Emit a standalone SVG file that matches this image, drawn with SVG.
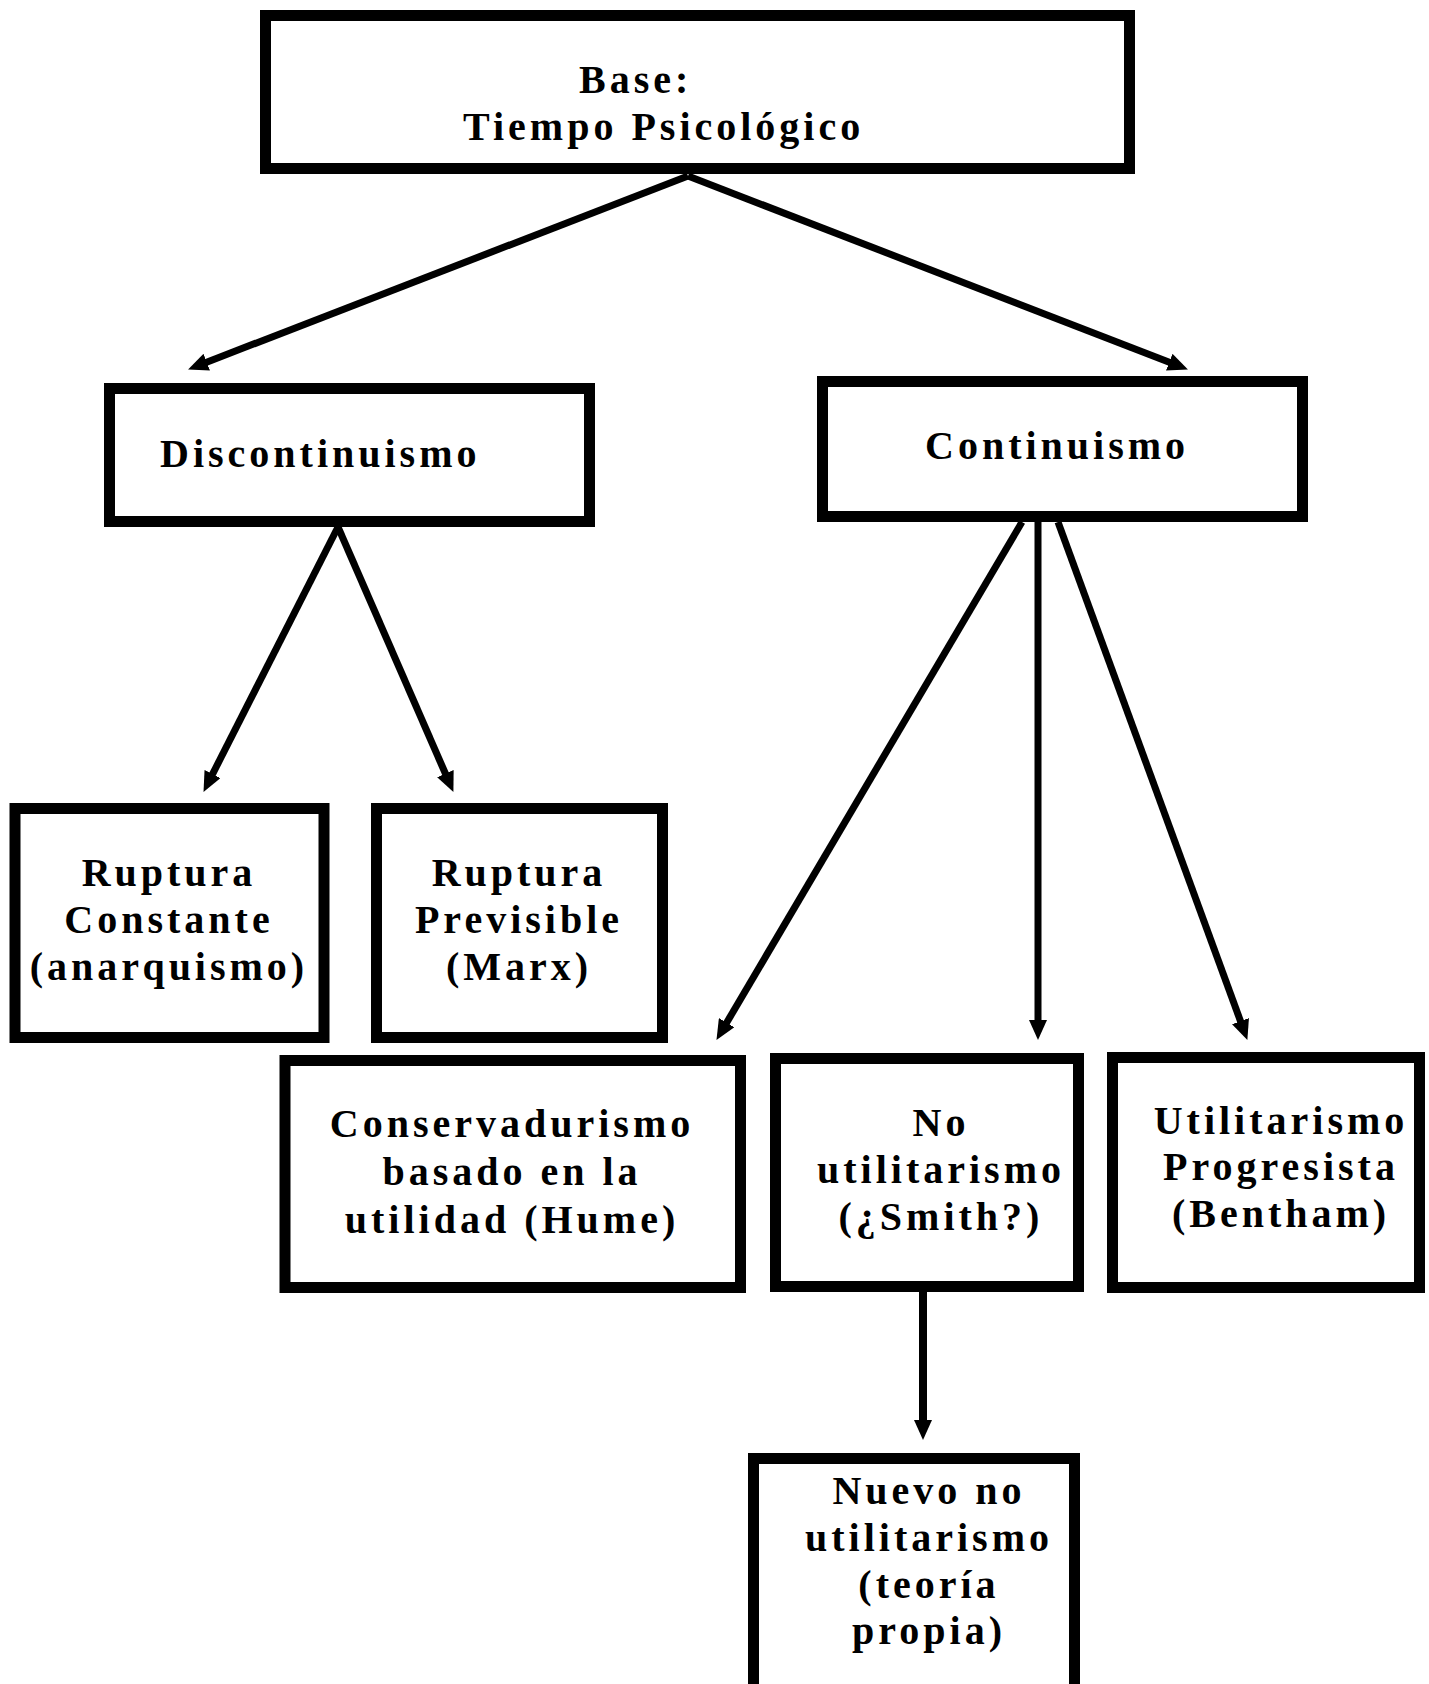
<svg xmlns="http://www.w3.org/2000/svg" width="1429" height="1684" viewBox="0 0 1429 1684">
<style>
.box{fill:#fff;stroke:#000;stroke-width:11}
.t{font-family:"Liberation Serif","Times New Roman",serif;font-weight:bold;font-size:40px;letter-spacing:4px;fill:#000}
.m{text-anchor:middle}
.c{stroke:#000;stroke-width:7;fill:none}
</style>
<defs>
<marker id="ah" markerUnits="userSpaceOnUse" markerWidth="20" markerHeight="18" refX="7" refY="9" orient="auto" viewBox="0 0 20 18">
<path d="M0,0 L20,9 L0,18 z" fill="#000"/>
</marker>
</defs>
<rect width="1429" height="1684" fill="#fff"/>
<g id="connectors">
<line class="c" x1="688" y1="176" x2="200.2" y2="364.7" marker-end="url(#ah)"/>
<line class="c" x1="688" y1="176" x2="1175.8" y2="364.7" marker-end="url(#ah)"/>
<line class="c" x1="338" y1="527" x2="209.4" y2="780.3" marker-end="url(#ah)"/>
<line class="c" x1="338" y1="527" x2="448.2" y2="780" marker-end="url(#ah)"/>
<line class="c" x1="1022" y1="522" x2="723.1" y2="1028.7" marker-end="url(#ah)"/>
<line class="c" x1="1038" y1="522" x2="1038" y2="1027" marker-end="url(#ah)"/>
<line class="c" x1="1058" y1="522" x2="1242.9" y2="1027.7" marker-end="url(#ah)"/>
<line class="c" x1="923" y1="1292" x2="923" y2="1427" marker-end="url(#ah)" style="stroke-width:8"/>
</g>
<g id="base">
<rect class="box" x="265.5" y="15.5" width="864" height="153"/>
<text class="t" x="579" y="93">Base:</text>
<text class="t" x="463" y="140">Tiempo Psicológico</text>
</g>
<g id="discontinuismo">
<rect class="box" x="109.5" y="388.5" width="480" height="133"/>
<text class="t" x="160" y="467">Discontinuismo</text>
</g>
<g id="continuismo">
<rect class="box" x="822.5" y="381.5" width="480" height="135"/>
<text class="t" x="925" y="459">Continuismo</text>
</g>
<g id="ruptura-constante">
<rect class="box" x="15" y="808.5" width="309" height="229"/>
<text class="t m" x="169" y="886">Ruptura</text>
<text class="t m" x="169" y="933">Constante</text>
<text class="t m" x="169" y="980">(anarquismo)</text>
</g>
<g id="ruptura-previsible">
<rect class="box" x="376.5" y="808.5" width="286" height="229"/>
<text class="t m" x="519" y="886">Ruptura</text>
<text class="t m" x="519" y="933">Previsible</text>
<text class="t m" x="519" y="980">(Marx)</text>
</g>
<g id="conservadurismo">
<rect class="box" x="285" y="1060.5" width="455.5" height="227"/>
<text class="t m" x="512" y="1137">Conservadurismo</text>
<text class="t m" x="512" y="1185">basado en la</text>
<text class="t m" x="512" y="1233">utilidad (Hume)</text>
</g>
<g id="no-utilitarismo">
<rect class="box" x="775.5" y="1058.5" width="303" height="228"/>
<text class="t m" x="941" y="1136">No</text>
<text class="t m" x="941" y="1183">utilitarismo</text>
<text class="t m" x="941" y="1230">(¿Smith?)</text>
</g>
<g id="utilitarismo-progresista">
<rect class="box" x="1112.5" y="1057.5" width="307" height="230"/>
<text class="t m" x="1281" y="1134">Utilitarismo</text>
<text class="t m" x="1281" y="1180">Progresista</text>
<text class="t m" x="1281" y="1227">(Bentham)</text>
</g>
<g id="nuevo-no-utilitarismo">
<rect class="box" x="753.5" y="1458.5" width="321" height="240"/>
<text class="t m" x="929" y="1504">Nuevo no</text>
<text class="t m" x="929" y="1551">utilitarismo</text>
<text class="t m" x="929" y="1598">(teoría</text>
<text class="t m" x="929" y="1644">propia)</text>
</g>
</svg>
